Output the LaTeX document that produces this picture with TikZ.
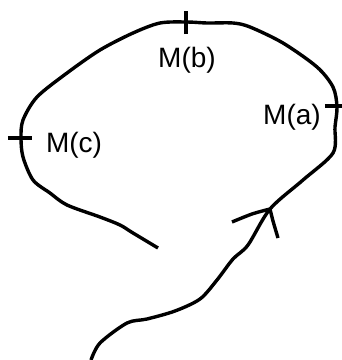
\documentclass[tikz,border=0pt]{standalone}
\usepackage{fontspec}
\setmainfont{Liberation Sans}
\usepackage{tikz}
\usetikzlibrary{positioning}

\tikzset{
  pen/.style={line width=3.4pt, black},
  lbl/.style={font=\fontsize{28}{30}\selectfont, inner sep=0pt}
}

\begin{document}
\begin{tikzpicture}[x=1pt, y=-1pt]
  \useasboundingbox (0,0) rectangle (342,360);
  % the path, from its lower end round the loop
  \draw[pen] plot[smooth, tension=0.5] coordinates {
    (91,360) (100,343) (127,323) (147,319) (175,311) (200,299) (217,280)
    (233,259) (248,245) (270,209) (303,180) (333,153) (335,127) (337,107)
    (333,87) (317,67) (283,43) (250,27) (233,23) (207,23) (187,22)
    (160,23) (133,33) (100,50) (67,73) (37,97) (23,120) (21,138)
    (23,157) (33,180) (50,193) (67,205) (100,217) (120,225) (133,233)
    (158,248)};
  % arrow head
  \coordinate (tip) at (270,209);
  \draw[pen] plot[smooth] coordinates {(232,222) (252,214) (tip)};
  \draw[pen] plot[smooth] coordinates {(tip) (273,221) (278,238)};
  % tick marks
  \coordinate (ta) at (333,106);
  \coordinate (tb) at (186,22);
  \coordinate (tc) at (20,138);
  \draw[pen] ([xshift=-8pt]ta) -- ([xshift=9pt]ta);
  \draw[pen] ([yshift=-12pt]tb) -- ([yshift=11pt]tb);
  \draw[pen] ([xshift=-12pt]tc) -- ([xshift=12pt]tc);
  % labels
  \node[lbl] (ma) at (292,117) {M(a)};
  \node[lbl] (mb) at (187,60) {M(b)};
  \node[lbl] (mc) at (74,145) {M(c)};
\end{tikzpicture}
\end{document}
